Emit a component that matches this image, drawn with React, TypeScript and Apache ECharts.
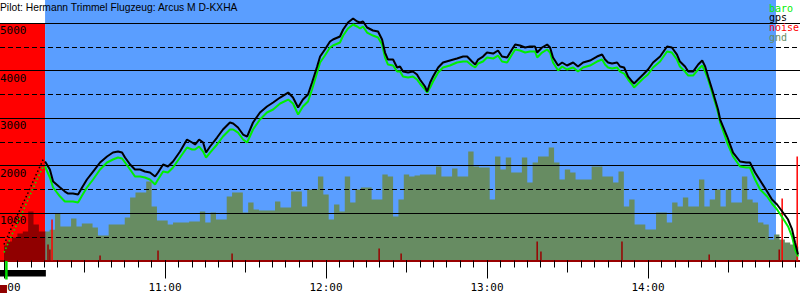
import React, { useEffect, useRef } from 'react';
import * as echarts from 'echarts';

// ---- layout constants (pixel scale of the reference) ----
const PX_PER_MIN = 161 / 60;
const X_ORIGIN = 4; // pixel of 10:00
const X_MAX = (800 - X_ORIGIN) / PX_PER_MIN;
const PX_PER_M = 47.5 / 1000;
const PLOT_BOTTOM = 39.5;
const Y_MAX = 5500;
const GRID_LINE_MAX = 5000;

// ---- data (minutes after 10:00, metres) ----
const phaseStart = [-1.5, 15.3];
const phaseEnd = [15.3, 287.7];
const phaseTop = [5000, 5500];
const phaseColor = ['#ff0000', '#5a9eff'];

const ENGINE_START = -1.5;
const ENGINE_END = 15.6;
const TAKEOFF_MIN = 0.8;

const climbMin = [0, 3, 6, 9, 12, 14.6];
const climbGps = [337, 716, 1074, 1431, 1810, 2126];
const climbBaro = [168, 547, 905, 1284, 1663, 1979];

const flightMin = [
  15.3, 17.1, 18.3, 20.9, 22.7, 23.9, 25.7, 27.6, 29.1, 30.9, 33.2, 35.8, 38.4, 40.6, 42.5, 44.0, 45.1, 47.0, 48.8, 50.7,
  52.5, 54.4, 56.3, 57.4, 59.3, 61.1, 63.0, 65.6, 68.2, 70.1, 71.2, 72.7, 74.2, 75.3, 76.8, 79.4, 81.6, 84.2, 85.4, 87.2,
  89.1, 90.6, 92.8, 95.4, 98.0, 100.3, 102.9, 105.9, 107.7, 109.6, 111.4, 113.3, 114.8, 116.7, 117.8, 119.6, 121.5, 122.6, 125.2, 126.4,
  128.2, 130.1, 131.6, 132.7, 133.8, 135.3, 137.5, 139.4, 140.9, 142.0, 143.1, 145.0, 146.5, 147.6, 148.7, 150.6, 152.4, 153.9, 155.0, 156.9,
  157.7, 158.8, 159.9, 161.8, 163.6, 166.2, 168.8, 171.1, 172.6, 174.4, 175.6, 176.7, 178.5, 180.0, 182.3, 184.1, 185.6, 187.5, 189.3, 190.5,
  192.3, 194.2, 196.0, 197.9, 198.7, 200.5, 202.4, 203.5, 204.6, 206.5, 208.0, 209.8, 212.1, 213.9, 215.8, 218.4, 221.0, 222.9, 224.0, 225.1,
  226.6, 228.5, 229.6, 231.1, 232.6, 234.1, 234.8, 236.3, 238.2, 240.0, 241.9, 244.5, 247.1, 248.9, 250.8, 251.9, 253.8, 255.0, 256.8, 258.7,
  260.2, 261.3, 262.4, 263.9, 265.0, 266.1, 266.9, 269.5, 271.7, 274.3, 276.6, 278.0, 279.9, 281.8, 284.4, 286.2, 288.1, 290.3, 292.2, 293.7,
  294.8, 295.9,
];
const gpsAlt = [
  2084, 1916, 1663, 1537, 1452, 1410, 1410, 1389, 1537, 1705, 1873, 2063, 2189, 2273, 2294, 2273, 2168, 2021, 1916, 1916,
  1873, 1852, 1768, 1852, 2021, 1979, 2084, 2294, 2547, 2484, 2442, 2547, 2484, 2273, 2400, 2589, 2758, 2905, 2884, 2800,
  2652, 2610, 2905, 3116, 3242, 3326, 3431, 3536, 3431, 3221, 3389, 3494, 3747, 4084, 4294, 4442, 4610, 4652, 4715, 4863,
  5010, 5094, 5031, 5010, 5031, 4905, 4842, 4820, 4652, 4378, 4231, 4231, 4063, 4084, 3978, 3957, 3978, 3915, 3810, 3663,
  3557, 3747, 3873, 4063, 4168, 4210, 4252, 4294, 4294, 4189, 4126, 4231, 4294, 4378, 4357, 4421, 4294, 4273, 4442, 4547,
  4526, 4484, 4505, 4505, 4378, 4484, 4547, 4484, 4273, 4105, 4168, 4105, 4168, 4084, 4168, 4210, 4294, 4336, 4231, 4168,
  4147, 4168, 4084, 4063, 3873, 3768, 3726, 3810, 3915, 4021, 4168, 4294, 4505, 4484, 4336, 4189, 4084, 3978, 3978, 4126,
  4210, 4084, 3873, 3600, 3389, 3179, 2968, 2610, 2273, 2084, 2063, 2063, 1852, 1684, 1452, 1284, 1179, 1010, 863, 653,
  379, 126,
];
const baroAlt = [
  1979, 1747, 1537, 1347, 1242, 1242, 1242, 1221, 1368, 1537, 1705, 1916, 2063, 2126, 2168, 2147, 2063, 1916, 1768, 1768,
  1747, 1705, 1600, 1705, 1873, 1852, 1958, 2168, 2379, 2336, 2336, 2400, 2294, 2168, 2273, 2442, 2610, 2758, 2758, 2694,
  2547, 2484, 2758, 2968, 3116, 3179, 3305, 3389, 3305, 3073, 3242, 3347, 3600, 3957, 4168, 4315, 4484, 4526, 4589, 4736,
  4884, 4968, 4926, 4884, 4926, 4799, 4736, 4694, 4547, 4273, 4126, 4105, 3978, 3978, 3873, 3852, 3873, 3810, 3726, 3600,
  3536, 3642, 3768, 3957, 4063, 4105, 4168, 4189, 4189, 4105, 4063, 4147, 4189, 4273, 4252, 4315, 4189, 4168, 4336, 4442,
  4421, 4378, 4400, 4400, 4273, 4378, 4442, 4378, 4168, 4000, 4084, 4021, 4063, 3978, 4063, 4105, 4189, 4231, 4126, 4063,
  4042, 4063, 3978, 3936, 3810, 3705, 3642, 3726, 3831, 3915, 4063, 4189, 4400, 4378, 4231, 4084, 3978, 3894, 3894, 4021,
  4105, 3978, 3810, 3536, 3326, 3116, 2905, 2484, 2189, 1979, 1958, 1958, 1705, 1495, 1347, 1200, 1074, 884, 716, 505,
  231, 84,
];

const GND_STEP_MIN = 2;
const gndAlt = [
  316, 400, 484, 568, 610, 1031, 758, 610, 610, 650, 1000, 716, 716, 884, 716, 779, 779, 695, 526, 526,
  758, 758, 758, 905, 1326, 1431, 1431, 1663, 1137, 842, 842, 758, 800, 800, 800, 821, 821, 1031, 800, 1010,
  863, 863, 1347, 1431, 1431, 1010, 1221, 1074, 1052, 1052, 1052, 1242, 1116, 1116, 1452, 1452, 1137, 1495, 1495, 1768,
  1389, 863, 1179, 1031, 1768, 1221, 1495, 1537, 1537, 1284, 1284, 1810, 1768, 926, 1284, 1810, 1768, 1789, 1810, 1810,
  1810, 1979, 1768, 1768, 1937, 1768, 1768, 2294, 1979, 1958, 1958, 1284, 2189, 1916, 2168, 1852, 1852, 2168, 1642, 2063,
  2189, 2189, 2379, 2063, 1705, 1916, 1852, 1705, 1705, 1705, 1979, 1979, 1768, 1768, 1642, 1873, 1137, 1284, 758, 758,
  653, 653, 1010, 1010, 800, 1221, 1137, 1326, 1137, 1137, 1705, 1137, 1284, 1495, 1137, 1495, 1221, 1221, 1768, 1284,
  1221, 800, 758, 442, 547, 442, 379, 337, 295,
];
const GND_ENGINE_END = 15.5;

const noiseMin = [16.4, 17.1, 17.9, 35.8, 57.4, 85.0, 139.8, 148.0, 198.7, 200.1, 230.3, 262.8, 288.9, 290.0, 295.6];
const noiseVal = [337, 232, 863, 105, 210, 147, 253, 147, 400, 190, 400, 126, 232, 1305, 2189];

const legendNames = ['baro', 'gps', 'noise', 'gnd'];
const legendColors = ['#00ee00', '#000000', '#ff0000', '#678c62'];

const TITLE = 'Pilot: Hermann Trimmel Flugzeug: Arcus M D-KXHA';
const MONO = 'DejaVu Sans Mono';

function gridFor(minVal: number, top: number) {
  return {
    left: X_ORIGIN + minVal * PX_PER_MIN, right: 0, top, bottom: PLOT_BOTTOM,
    containLabel: false, outerBoundsMode: 'none',
  };
}

// split ground profile into engine-phase part and flight part (shared boundary point)
const gndPoints = gndAlt.map((v, i) => [i * GND_STEP_MIN, v]);
const gndEngine = gndPoints.filter((p) => p[0] < GND_ENGINE_END);
const gndFlight = gndPoints.filter((p) => p[0] >= GND_ENGINE_END);
gndEngine.push([GND_ENGINE_END, gndEngine[gndEngine.length - 1][1]]);
gndFlight.unshift([GND_ENGINE_END, gndFlight[0][1]]);

export default function App() {
  const ref = useRef<HTMLDivElement>(null);
  useEffect(() => {
    document.body.style.margin = '0';
    const chart = echarts.init(ref.current!, undefined, { renderer: 'svg' });
    const plotTop = 300 - PLOT_BOTTOM - Y_MAX * PX_PER_M;
    const linesTop = 300 - PLOT_BOTTOM - GRID_LINE_MAX * PX_PER_M;

    const option: any = {
      animation: false,
      backgroundColor: '#ffffff',
      grid: [
        gridFor(-5, plotTop), gridFor(-30, plotTop), gridFor(-60, plotTop),
        { left: 0, right: 0, top: linesTop, bottom: PLOT_BOTTOM, containLabel: false, outerBoundsMode: 'none' },
      ],
      xAxis: [
        {
          gridIndex: 0, type: 'value', min: -5, max: X_MAX, interval: 5, z: 4,
          axisLine: { show: true, lineStyle: { color: '#990000', width: 2 } },
          axisTick: { show: true, length: 7, lineStyle: { color: '#000' } },
          axisLabel: { show: false }, splitLine: { show: false },
        },
        {
          gridIndex: 1, type: 'value', min: -30, max: X_MAX, interval: 30, z: 4,
          axisLine: { show: false },
          axisTick: { show: true, length: 12, lineStyle: { color: '#000' } },
          axisLabel: { show: false }, splitLine: { show: false },
        },
        {
          gridIndex: 2, type: 'value', min: -60, max: X_MAX, interval: 60, z: 4,
          axisLine: { show: false },
          axisTick: { show: true, length: 18, lineStyle: { color: '#000' } },
          axisLabel: {
            show: true, margin: 21, color: '#000', fontFamily: MONO, fontSize: 11,
            formatter: (v: number) => {
              if (v < 0 || Math.abs(v % 60) > 0.01) return '';
              const h = 10 + Math.round(v / 60);
              return h + ':00';
            },
          },
          splitLine: { show: false },
        },
        { gridIndex: 3, type: 'value', min: 0, max: 1, show: false },
      ],
      yAxis: [
        { gridIndex: 0, type: 'value', min: 0, max: Y_MAX, show: false },
        { gridIndex: 1, type: 'value', min: 0, max: 1, show: false },
        { gridIndex: 2, type: 'value', min: 0, max: 1, show: false },
        {
          gridIndex: 3, type: 'value', min: 0, max: GRID_LINE_MAX, interval: 1000, z: 3,
          axisLine: { show: false }, axisTick: { show: false },
          splitLine: { show: true, lineStyle: { color: '#000', width: 1 } },
          minorTick: { show: false, splitNumber: 2 },
          minorSplitLine: { show: true, lineStyle: { color: '#000', width: 1, type: [5, 3] } },
          axisLabel: {
            inside: true, margin: 0, verticalAlign: 'top', color: '#000', fontFamily: MONO, fontSize: 11,
            padding: [2, 0, 0, 0],
            formatter: (v: number) => (v > 0 && v % 1000 === 0 ? String(v) : ''),
          },
        },
      ],
      series: [
        {
          type: 'custom', name: 'phases', xAxisIndex: 0, yAxisIndex: 0, z: 1, silent: true,
          data: phaseStart.map((s, i) => [s, phaseEnd[i], phaseTop[i]]),
          encode: { x: [0, 1], y: 2 },
          renderItem: (params: any, api: any) => {
            const p0 = api.coord([api.value(0), api.value(2)]);
            const p1 = api.coord([api.value(1), 0]);
            return {
              type: 'rect',
              shape: { x: p0[0], y: p0[1], width: p1[0] - p0[0], height: p1[1] - p0[1] },
              style: { fill: phaseColor[params.dataIndex] },
            };
          },
        },
        {
          type: 'line', name: 'gndEngine', xAxisIndex: 0, yAxisIndex: 0, z: 2, step: 'middle',
          symbol: 'none', showSymbol: false,
          lineStyle: { width: 0, opacity: 0 },
          areaStyle: { opacity: 1, color: '#900000' },
          data: gndEngine,
        },
        {
          type: 'line', name: 'gnd', xAxisIndex: 0, yAxisIndex: 0, z: 2, step: 'middle',
          symbol: 'none', showSymbol: false,
          lineStyle: { width: 0, opacity: 0 },
          areaStyle: { opacity: 1, color: '#678c62' },
          data: gndFlight,
        },
        {
          type: 'bar', name: 'noise', xAxisIndex: 0, yAxisIndex: 0, z: 4, barWidth: 1.5,
          data: noiseMin.map((t, i) => [t, noiseVal[i]]),
          itemStyle: {
            color: (p: any) => {
              const t = p.value[0];
              const g = gndAlt[Math.round(t / GND_STEP_MIN)] ?? 0;
              return p.value[1] > g ? '#ff0000' : '#990000';
            },
          },
        },
        {
          type: 'line', name: 'baroClimb', xAxisIndex: 0, yAxisIndex: 0, z: 5, symbol: 'none',
          lineStyle: { color: '#00ee00', width: 1.5, type: [1.5, 2.5] },
          data: climbMin.map((t, i) => [t, climbBaro[i]]),
        },
        {
          type: 'line', name: 'gpsClimb', xAxisIndex: 0, yAxisIndex: 0, z: 6, symbol: 'none',
          lineStyle: { color: '#000000', width: 1.5, type: [1.5, 2.5] },
          data: climbMin.map((t, i) => [t, climbGps[i]]),
        },
        {
          type: 'line', name: 'baro', xAxisIndex: 0, yAxisIndex: 0, z: 5, symbol: 'none',
          lineStyle: { color: '#00ee00', width: 2 },
          data: flightMin.map((t, i) => [t, baroAlt[i]]),
        },
        {
          type: 'line', name: 'gps', xAxisIndex: 0, yAxisIndex: 0, z: 6, symbol: 'none',
          lineStyle: { color: '#000000', width: 2 },
          data: flightMin.map((t, i) => [t, gpsAlt[i]]),
        },
        {
          type: 'custom', name: 'engine', xAxisIndex: 0, yAxisIndex: 0, z: 6, silent: true, clip: false,
          data: [[ENGINE_START, ENGINE_END, TAKEOFF_MIN, 0]],
          encode: { x: [0, 1, 2], y: 3 },
          renderItem: (params: any, api: any) => {
            const a = api.coord([api.value(0), 0]);
            const b = api.coord([api.value(1), 0]);
            const c = api.coord([api.value(2), 0]);
            const base = a[1];
            return {
              type: 'group',
              children: [
                { type: 'rect', shape: { x: a[0], y: base + 9.5, width: b[0] - a[0], height: 6.5 }, style: { fill: '#000' } },
                { type: 'rect', shape: { x: c[0] - 1, y: base + 0.5, width: 2.5, height: 18.5 }, style: { fill: '#00dd00' } },
                { type: 'rect', shape: { x: a[0], y: base + 24.5, width: 7, height: 8 }, style: { fill: '#900000' } },
              ],
            };
          },
        },
      ],
      graphic: [
        {
          type: 'text', left: 0, top: 2, z: 20,
          style: { text: TITLE, fill: '#000', font: '10.3px "Liberation Sans", Arial, sans-serif' },
        },
        ...legendNames.map((n, i) => ({
          type: 'text', left: 769, top: 3 + i * 9.8, z: 20,
          style: { text: n, fill: legendColors[i], font: `10px "${MONO}", monospace`, lineHeight: 9.5 },
        })),
      ],
    };
    chart.setOption(option);
    return () => chart.dispose();
  }, []);
  return <div ref={ref} style={{ width: 800, height: 300 }} />;
}
